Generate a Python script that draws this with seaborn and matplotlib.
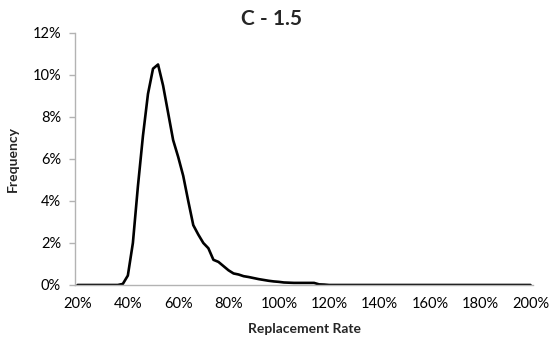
import matplotlib
matplotlib.use("Agg")
import matplotlib.pyplot as plt
import seaborn as sns
import pandas as pd
import numpy as np
from matplotlib.ticker import FuncFormatter, MultipleLocator

# Replacement rate categories (%), 2% steps from 20% to 200%
rates = list(range(20, 202, 2))
# Frequency (%)
freq_head = [0, 0, 0, 0, 0, 0, 0, 0, 0,          # 20..36
             0.05, 0.45, 2.0, 4.7, 7.1, 9.1,       # 38..48
             10.3, 10.5, 9.5, 8.2, 6.9, 6.1,       # 50..60
             5.2, 4.0, 2.85, 2.4, 2.0, 1.75,       # 62..72
             1.2, 1.1, 0.9, 0.7, 0.55, 0.5,        # 74..84
             0.42, 0.38, 0.33, 0.28, 0.24, 0.2,    # 86..96
             0.17, 0.15, 0.12, 0.11, 0.1, 0.1,     # 98..108
             0.1, 0.1, 0.1, 0.03, 0.02]            # 110..118
freq = freq_head + [0.0] * (len(rates) - len(freq_head))

x_ticks = list(range(20, 201, 20))
y_ticks = list(range(0, 13, 2))

df = pd.DataFrame({"rate": rates, "freq": freq})

sns.set_theme(style="white")
plt.rcParams["font.family"] = ["Lato", "DejaVu Sans"]

fig = plt.figure(figsize=(5.54, 3.45), dpi=100)
ax = fig.add_axes([75/554, 1-285/345, (533-75)/554, (285-33)/345])

sns.lineplot(data=df, x="rate", y="freq", ax=ax, color="black", linewidth=1.9)

ax.set_xlim(19, 201)
ax.set_ylim(0, 12)
ax.set_xticks(x_ticks)
ax.set_yticks(y_ticks)
ax.xaxis.set_major_formatter(FuncFormatter(lambda v, p: f"{int(round(v))}%"))
ax.yaxis.set_major_formatter(FuncFormatter(lambda v, p: f"{int(round(v))}%"))

for s in ["top", "right"]:
    ax.spines[s].set_visible(False)
for s in ["left", "bottom"]:
    ax.spines[s].set_color("#b3b3b3")
    ax.spines[s].set_linewidth(1.0)

ax.tick_params(axis="y", which="major", length=4, width=1, color="#b3b3b3",
               left=True, labelsize=10.5, pad=6, labelcolor="black")
ax.tick_params(axis="x", which="major", length=0, labelsize=10.5, pad=9,
               labelcolor="black")

ax.set_xlabel("Replacement Rate", fontsize=10, fontweight="bold", labelpad=8)
ax.set_ylabel("Frequency", fontsize=10, fontweight="bold", labelpad=10)
fig.text(0.49, 0.945, "C - 1.5", ha="center", va="center",
         fontsize=15, fontweight="bold")

fig.savefig("out.png", dpi=100, facecolor="white")
